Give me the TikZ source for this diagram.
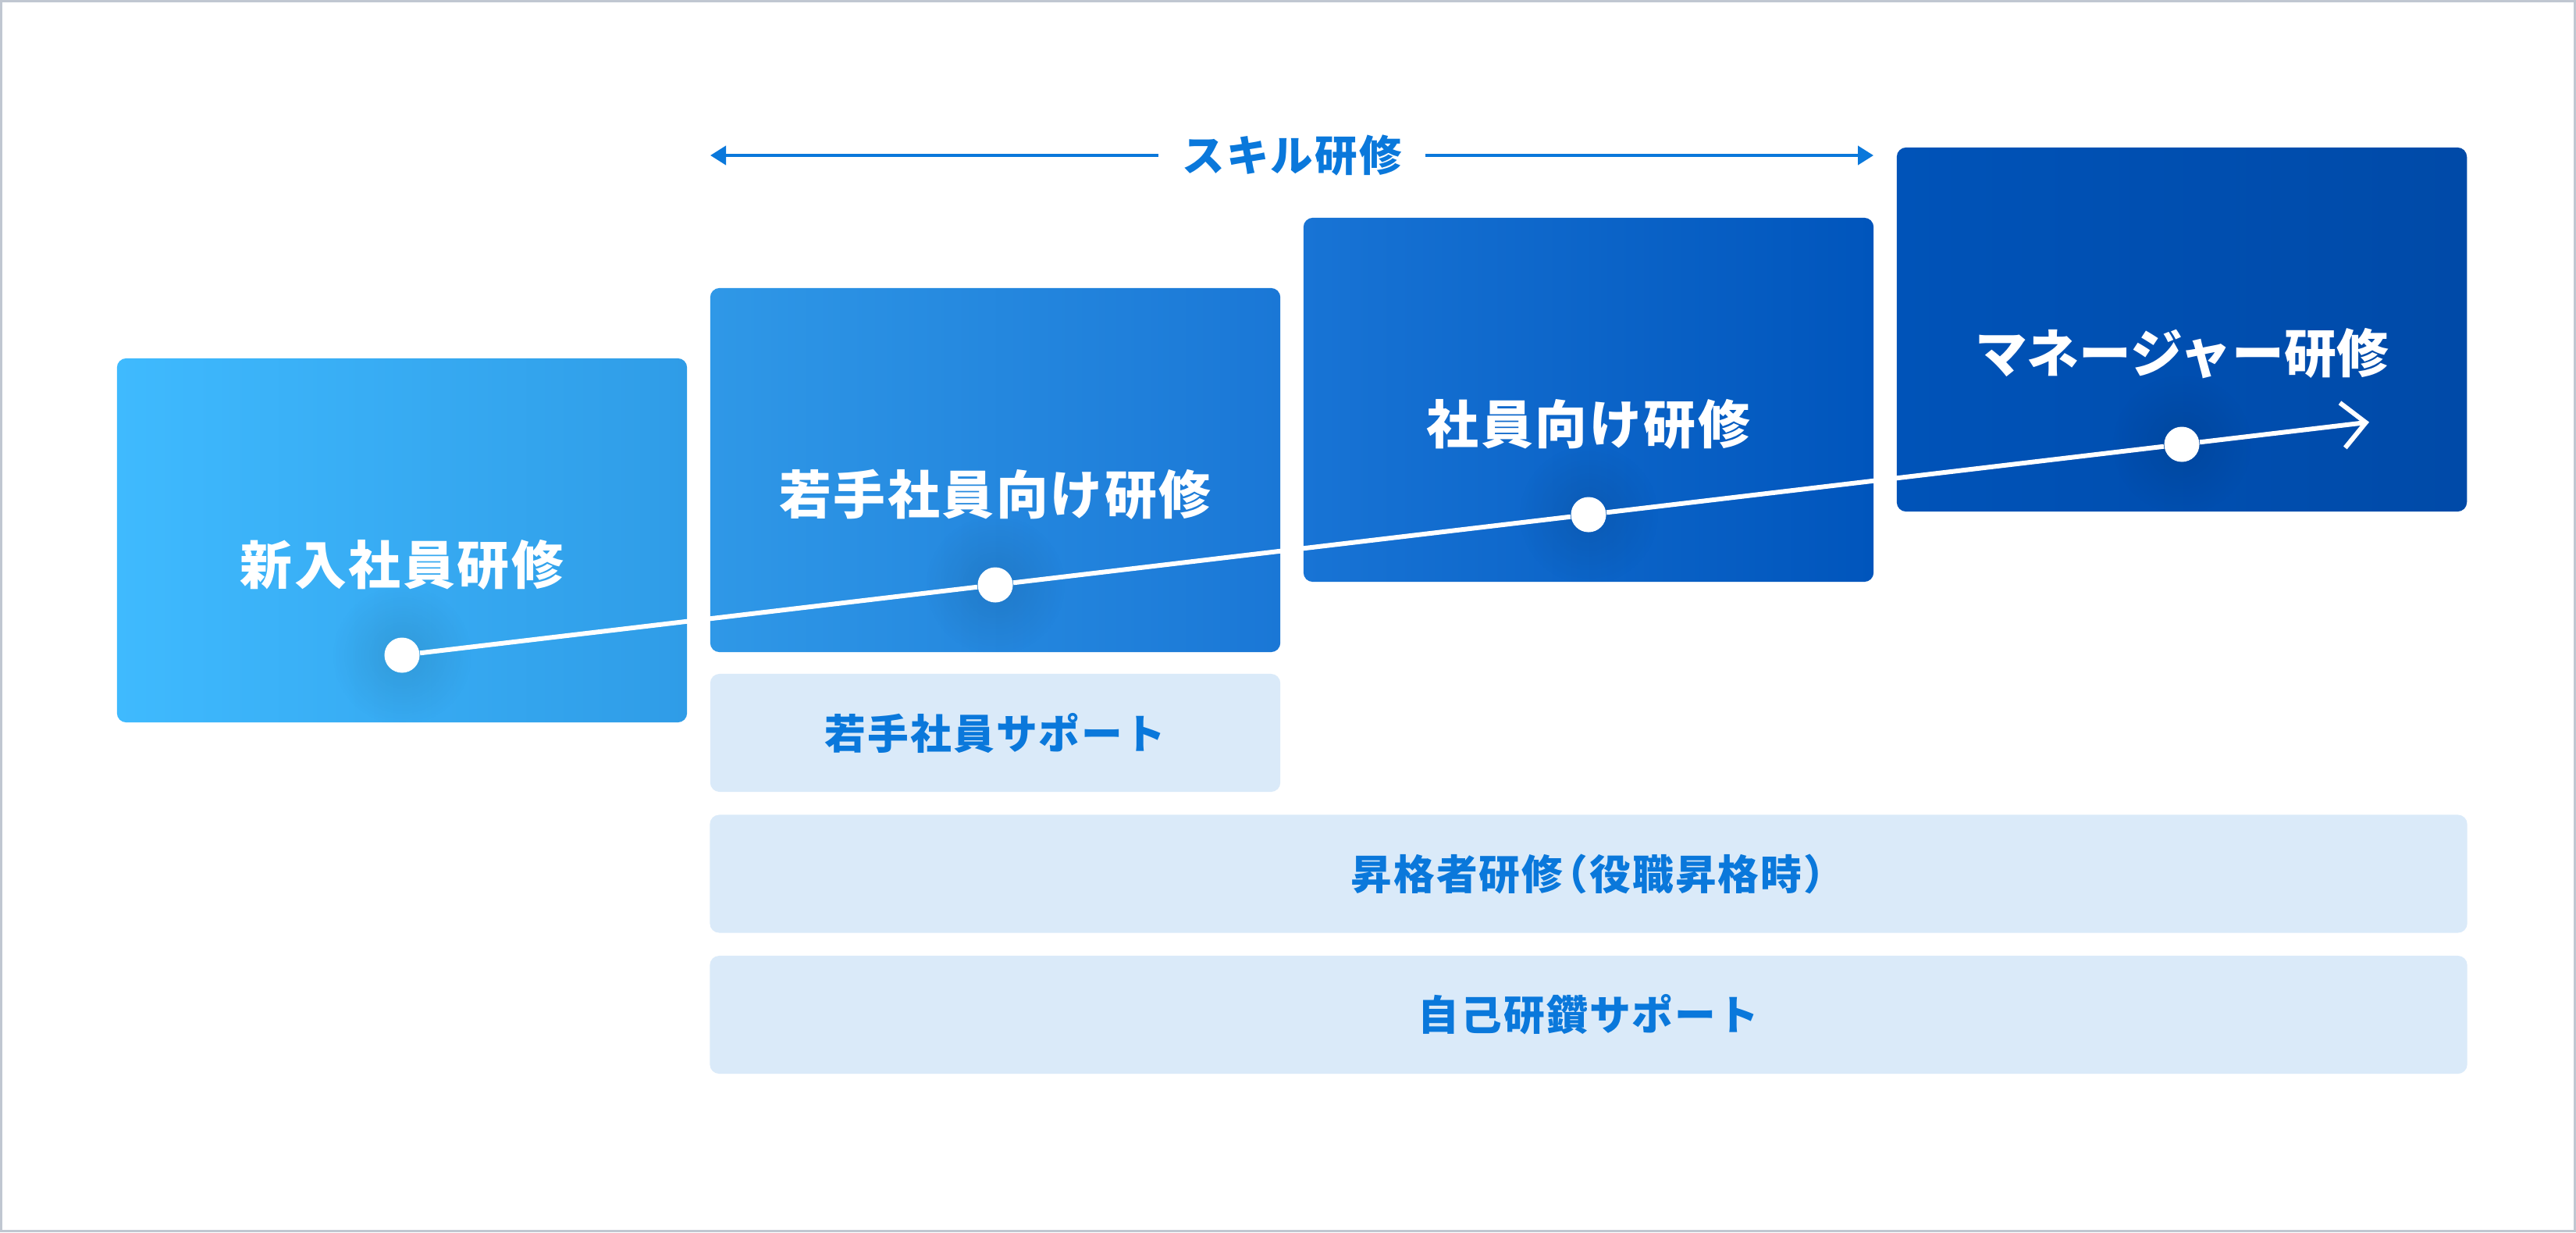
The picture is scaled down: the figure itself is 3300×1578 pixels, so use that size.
\documentclass[tikz,border=0pt]{standalone}
\usepackage{fontspec}
\setmainfont{Noto Sans CJK JP}[LetterSpace=4]
\usetikzlibrary{arrows.meta,fadings}
\definecolor{borderg}{HTML}{C0C7D1}
\definecolor{ca1}{HTML}{3FBAFE}
\definecolor{ca2}{HTML}{2F9CE7}
\definecolor{cb1}{HTML}{2F98E7}
\definecolor{cb2}{HTML}{1A77D6}
\definecolor{cc1}{HTML}{1874D5}
\definecolor{cc2}{HTML}{0055BC}
\definecolor{cd1}{HTML}{0053B8}
\definecolor{cd2}{HTML}{004AA8}
\definecolor{lightbox}{HTML}{DAEAF9}
\definecolor{textblue}{HTML}{0A78DB}
\pgfdeclarelayer{front}
\pgfsetlayers{main,front}
\tikzfading[name=halo, inner color=transparent!90, outer color=transparent!100]
\tikzset{
  stage/.style={rounded corners=0.12cm, minimum width=7.3cm, minimum height=4.66cm, inner sep=0pt, draw=none},
  stagetext/.style={text=white, inner sep=0pt, font=\fontsize{19pt}{19pt}\selectfont\bfseries},
  support/.style={fill=lightbox, rounded corners=0.12cm, inner sep=0pt, minimum height=1.51cm,
    text=textblue, font=\fontsize{15pt}{15pt}\selectfont\bfseries},
  dotnode/.style={circle, fill=white, minimum size=0.45cm, inner sep=0pt},
  progress/.style={white, line width=0.06cm},
  skarrow/.style={textblue, line width=0.04cm, -{Triangle[length=0.2cm, width=0.24cm]}},
  skilltext/.style={text=textblue, inner xsep=0.3cm, inner ysep=0pt, font=\fontsize{15.5pt}{15.5pt}\selectfont\bfseries}
}
\begin{document}
\begin{tikzpicture}[x=0.01cm, y=-0.01cm]
\useasboundingbox (0,0) rectangle (3300,1578);
\fill[white] (0,0) rectangle (3300,1578);
\draw[borderg, line width=0.03cm] (1.5,1.5) rectangle (3298.5,1576.5);

% stage boxes
\node[stage, left color=ca1, right color=ca2] (b1) at (515,692) {};
\node[stage, left color=cb1, right color=cb2] (b2) at (1275,602) {};
\node[stage, left color=cc1, right color=cc2] (b3) at (2035,512) {};
\node[stage, left color=cd1, right color=cd2] (b4) at (2795,422) {};

\node[stagetext] (t1) at (515,723) {新入社員研修};
\node[stagetext] (t2) at (1275,633) {若手社員向け研修};
\node[stagetext] (t3) at (2035,543) {社員向け研修};
\node[stagetext] (t4) at (2795,453) {\addfontfeatures{LetterSpace=0}マネージャー研修};

% support boxes
\node[support, minimum width=7.3cm] (s1) at (1275,938.5) {若手社員サポート};
\node[support, minimum width=22.5cm] (s2) at (2035,1119) {昇格者研修\kern-0.4em（役職昇格時）\kern-0.45em};
\node[support, minimum width=22.5cm] (s3) at (2035,1299.5) {自己研鑽サポート};

% skill arrow
\node[skilltext] (sk) at (1655,199) {スキル研修};
\coordinate (skL) at (910,199);
\coordinate (skR) at (2400,199);
\draw[skarrow] (sk.west) -- (skL);
\draw[skarrow] (sk.east) -- (skR);

% progress dots
\begin{pgfonlayer}{front}
\node[dotnode] (d1) at (515,839) {};
\node[dotnode] (d2) at (1275,749) {};
\node[dotnode] (d3) at (2035,659) {};
\node[dotnode] (d4) at (2795,569) {};
\end{pgfonlayer}
\coordinate (pend) at (3035,540.6);

\foreach \d in {d1,d2,d3,d4}
  \fill[black, path fading=halo] (\d) circle (0.9cm);

\draw[progress] (d1) -- (d2) -- (d3) -- (d4);
\draw[progress, -{Straight Barb[length=0.3cm, width=0.58cm]}] (d4) -- (pend);
\end{tikzpicture}
\end{document}
